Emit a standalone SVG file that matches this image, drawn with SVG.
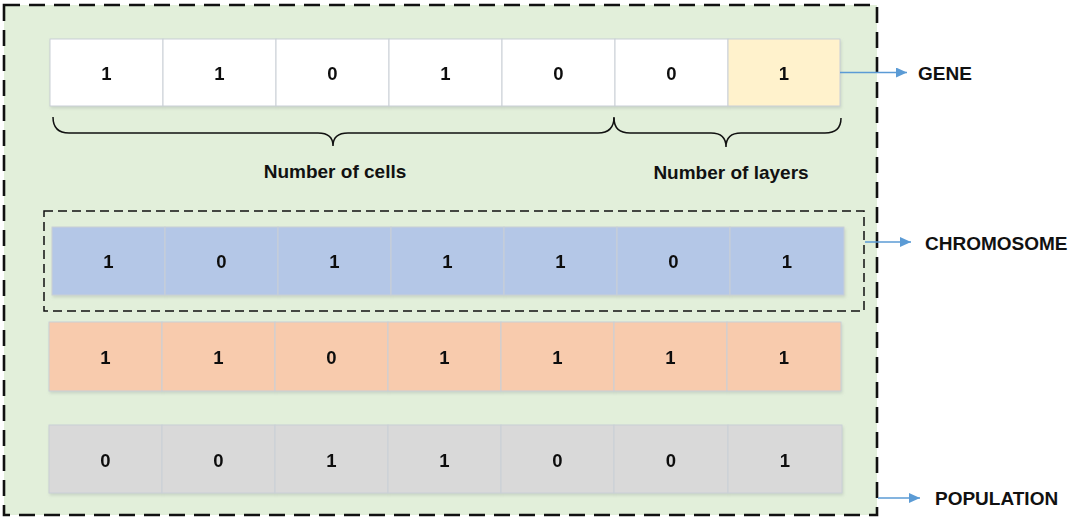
<svg xmlns="http://www.w3.org/2000/svg" width="1070" height="517" viewBox="0 0 1070 517">
  <style>
    .t { font-family: "Liberation Sans", Arial, sans-serif; font-weight: bold; fill: #111; }
    .d { font-size: 18.5px; text-anchor: middle; }
    .lbl { font-size: 19px; }
    .cell { stroke: #C9CFD6; stroke-width: 1; }
    .w { fill: #FFFFFF; }
    .y { fill: #FFF2CC; }
    .b { fill: #B4C7E7; }
    .o { fill: #F8CBAD; }
    .g { fill: #D9D9D9; }
    .arr { stroke: #5B9BD5; stroke-width: 1.5; fill: none; marker-end: url(#ah); }
    .brace { stroke: #111; stroke-width: 1.5; fill: none; }
  </style>
  <defs>
    <marker id="ah" viewBox="0 0 11 10" refX="11" refY="5" markerWidth="11" markerHeight="10" markerUnits="userSpaceOnUse" orient="auto">
      <path d="M0,0 L11,5 L0,10 z" fill="#5B9BD5"/>
    </marker>
    <filter id="sh" x="-5%" y="-20%" width="110%" height="150%">
      <feDropShadow dx="1" dy="2" stdDeviation="1.5" flood-color="#9AA5A0" flood-opacity="0.35"/>
    </filter>
  </defs>

  <rect width="1070" height="517" fill="#FFFFFF"/>

  <g id="population">
    <rect x="4" y="5" width="873" height="510" fill="#E2EFDA" stroke="#111" stroke-width="2.6" stroke-dasharray="16,9"/>
  </g>

  <g id="gene-row" filter="url(#sh)">
    <g id="gene-c1"><rect class="cell w" x="50" y="39" width="113" height="67"/><text class="t d" x="106.5" y="80">1</text></g>
    <g id="gene-c2"><rect class="cell w" x="163" y="39" width="113" height="67"/><text class="t d" x="219.5" y="80">1</text></g>
    <g id="gene-c3"><rect class="cell w" x="276" y="39" width="113" height="67"/><text class="t d" x="332.5" y="80">0</text></g>
    <g id="gene-c4"><rect class="cell w" x="389" y="39" width="113" height="67"/><text class="t d" x="445.5" y="80">1</text></g>
    <g id="gene-c5"><rect class="cell w" x="502" y="39" width="113" height="67"/><text class="t d" x="558.5" y="80">0</text></g>
    <g id="gene-c6"><rect class="cell w" x="615" y="39" width="113" height="67"/><text class="t d" x="671.5" y="80">0</text></g>
    <g id="gene-c7"><rect class="cell y" x="728" y="39" width="112" height="67"/><text class="t d" x="784" y="80">1</text></g>
  </g>

  <g id="braces">
    <path class="brace" d="M53,117 Q53,133 69,133 L318,133 Q333,133 333,146 Q333,133 348,133 L598,133 Q614,133 614,117"/>
    <path class="brace" d="M614,118 Q614,133 630,133 L711,133 Q726,133 726,147 Q726,133 741,133 L825,133 Q841,133 841,118"/>
  </g>
  <g id="label-cells"><text class="t lbl" x="335" y="178" text-anchor="middle">Number of cells</text></g>
  <g id="label-layers"><text class="t lbl" x="731" y="179" text-anchor="middle">Number of layers</text></g>

  <g id="chromosome">
    <rect x="44" y="211" width="820" height="100" fill="none" stroke="#111" stroke-width="1.5" stroke-dasharray="9,5"/>
  </g>

  <g id="blue-row" filter="url(#sh)">
    <g id="blue-c1"><rect class="cell b" x="52" y="227" width="113" height="68"/><text class="t d" x="108.5" y="268">1</text></g>
    <g id="blue-c2"><rect class="cell b" x="165" y="227" width="113" height="68"/><text class="t d" x="221.5" y="268">0</text></g>
    <g id="blue-c3"><rect class="cell b" x="278" y="227" width="113" height="68"/><text class="t d" x="334.5" y="268">1</text></g>
    <g id="blue-c4"><rect class="cell b" x="391" y="227" width="113" height="68"/><text class="t d" x="447.5" y="268">1</text></g>
    <g id="blue-c5"><rect class="cell b" x="504" y="227" width="113" height="68"/><text class="t d" x="560.5" y="268">1</text></g>
    <g id="blue-c6"><rect class="cell b" x="617" y="227" width="113" height="68"/><text class="t d" x="673.5" y="268">0</text></g>
    <g id="blue-c7"><rect class="cell b" x="730" y="227" width="114" height="68"/><text class="t d" x="787" y="268">1</text></g>
  </g>

  <g id="orange-row" filter="url(#sh)">
    <g id="orange-c1"><rect class="cell o" x="49" y="322" width="113" height="69"/><text class="t d" x="105.5" y="364">1</text></g>
    <g id="orange-c2"><rect class="cell o" x="162" y="322" width="113" height="69"/><text class="t d" x="218.5" y="364">1</text></g>
    <g id="orange-c3"><rect class="cell o" x="275" y="322" width="113" height="69"/><text class="t d" x="331.5" y="364">0</text></g>
    <g id="orange-c4"><rect class="cell o" x="388" y="322" width="113" height="69"/><text class="t d" x="444.5" y="364">1</text></g>
    <g id="orange-c5"><rect class="cell o" x="501" y="322" width="113" height="69"/><text class="t d" x="557.5" y="364">1</text></g>
    <g id="orange-c6"><rect class="cell o" x="614" y="322" width="113" height="69"/><text class="t d" x="670.5" y="364">1</text></g>
    <g id="orange-c7"><rect class="cell o" x="727" y="322" width="114" height="69"/><text class="t d" x="784" y="364">1</text></g>
  </g>

  <g id="gray-row" filter="url(#sh)">
    <g id="gray-c1"><rect class="cell g" x="49" y="425" width="113" height="68"/><text class="t d" x="105.5" y="467">0</text></g>
    <g id="gray-c2"><rect class="cell g" x="162" y="425" width="113" height="68"/><text class="t d" x="218.5" y="467">0</text></g>
    <g id="gray-c3"><rect class="cell g" x="275" y="425" width="113" height="68"/><text class="t d" x="331.5" y="467">1</text></g>
    <g id="gray-c4"><rect class="cell g" x="388" y="425" width="113" height="68"/><text class="t d" x="444.5" y="467">1</text></g>
    <g id="gray-c5"><rect class="cell g" x="501" y="425" width="113" height="68"/><text class="t d" x="557.5" y="467">0</text></g>
    <g id="gray-c6"><rect class="cell g" x="614" y="425" width="114" height="68"/><text class="t d" x="671" y="467">0</text></g>
    <g id="gray-c7"><rect class="cell g" x="728" y="425" width="114" height="68"/><text class="t d" x="785" y="467">1</text></g>
  </g>

  <g id="connectors">
    <line class="arr" x1="840" y1="72.5" x2="907" y2="72.5"/>
    <line class="arr" x1="865" y1="242" x2="911" y2="242"/>
    <line class="arr" x1="878" y1="498" x2="920" y2="498"/>
  </g>

  <g id="label-gene"><text class="t lbl" x="918" y="80">GENE</text></g>
  <g id="label-chromosome"><text class="t lbl" x="925" y="250">CHROMOSOME</text></g>
  <g id="label-population"><text class="t lbl" x="935" y="505">POPULATION</text></g>
</svg>
